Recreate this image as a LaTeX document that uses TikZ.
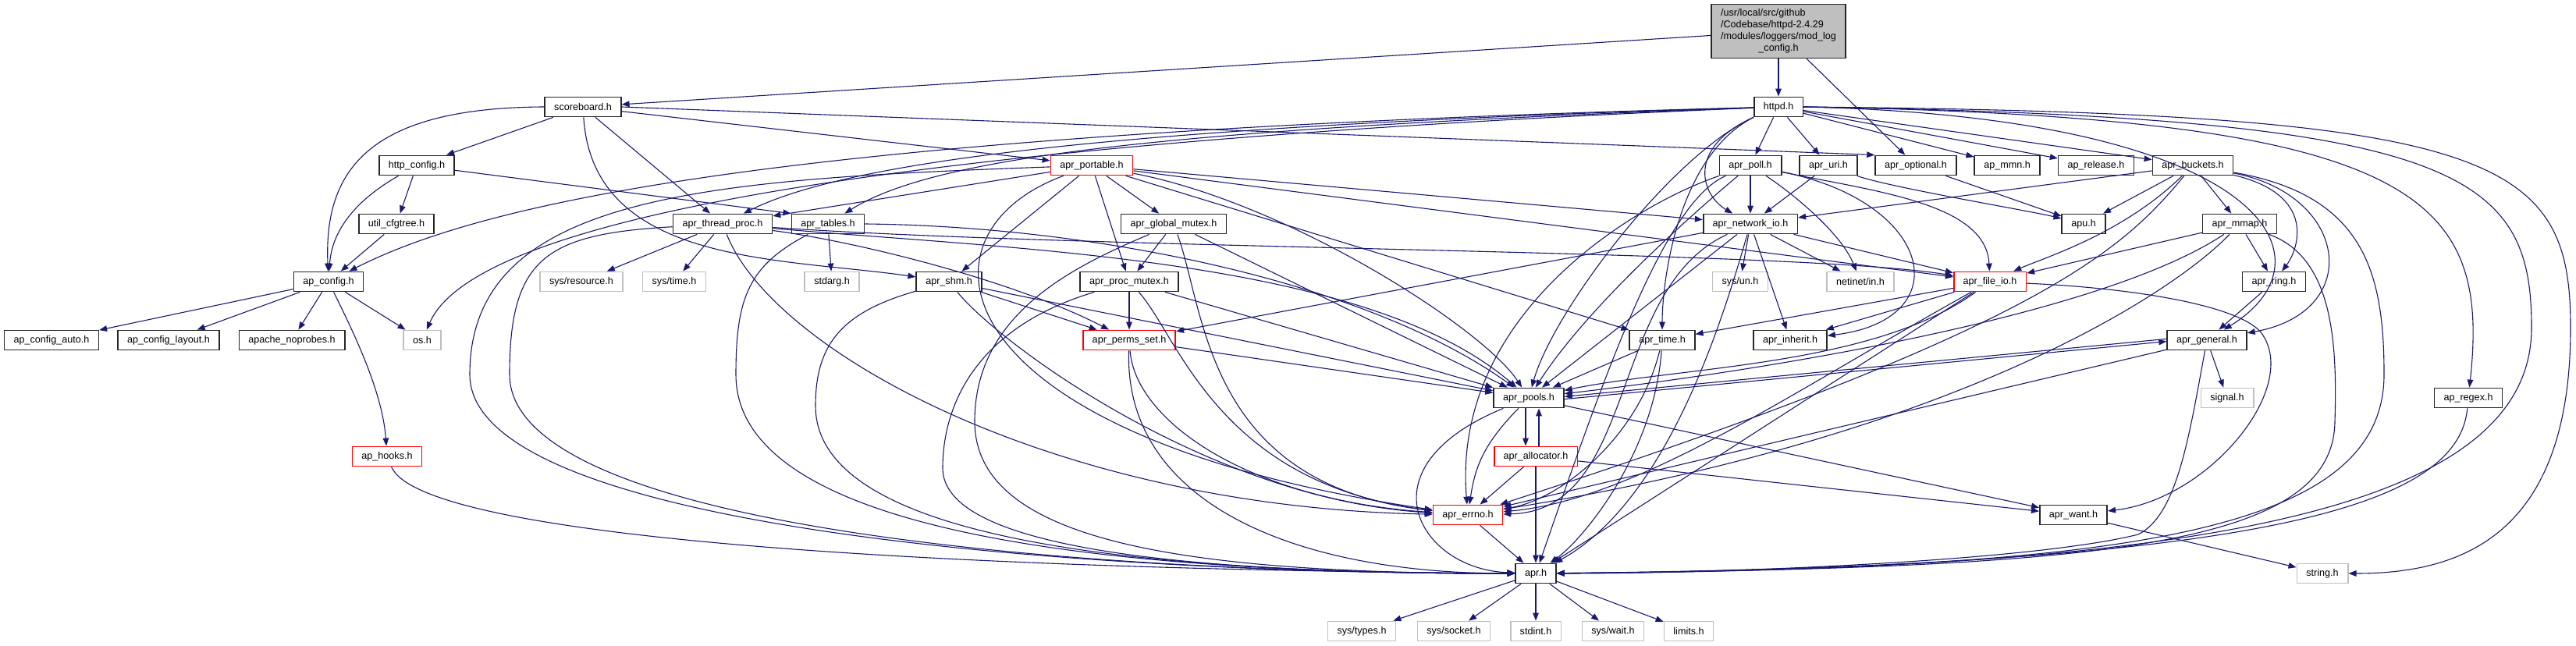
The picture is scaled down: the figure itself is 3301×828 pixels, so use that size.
\documentclass[tikz,border=0pt]{standalone}
\usepackage{fontspec}
\setmainfont{Liberation Sans}
\usetikzlibrary{arrows.meta}
\definecolor{edgeblue}{HTML}{191970}
\definecolor{sysgray}{HTML}{BFBFBF}
\definecolor{rootfill}{HTML}{BFBFBF}
\definecolor{truncred}{HTML}{FF0000}
\tikzset{
  hdr/.style={draw=black!85, line width=0.8pt, fill=white, minimum height=12.6pt,
    inner xsep=6pt, inner ysep=0pt, font=\fontsize{6.3}{7.4}\selectfont},
  syshdr/.style={hdr, draw=sysgray},
  trunchdr/.style={hdr, draw=truncred},
  roothdr/.style={hdr, fill=rootfill, minimum height=34.5pt},
  inc/.style={color=edgeblue, line width=0.55pt, -{Triangle[length=5pt,width=3.8pt]}}
}

\begin{document}
\begin{tikzpicture}[x=0.5pt, y=-0.5pt]
  \useasboundingbox (0,0) rectangle (3301,828);
  % header files
  \node[roothdr] (root) at (2279,40) {\begin{tabular}{@{}l@{}}/usr/local/src/github\\/Codebase/httpd-2.4.29\\/modules/loggers/mod\_log\\\multicolumn{1}{@{}c@{}}{\_config.h}\end{tabular}};
  \node[hdr] (sb) at (747,137) {scoreboard.h};
  \node[hdr] (httpd) at (2279,137) {httpd.h};
  \node[hdr] (httpcfg) at (534,212) {http\_config.h};
  \node[trunchdr] (portable) at (1399,212) {apr\_portable.h};
  \node[hdr] (poll) at (2243,212) {apr\_poll.h};
  \node[hdr] (uri) at (2343,212) {apr\_uri.h};
  \node[hdr] (optional) at (2455,212) {apr\_optional.h};
  \node[hdr] (mmn) at (2572,212) {ap\_mmn.h};
  \node[hdr] (release) at (2686,212) {ap\_release.h};
  \node[hdr] (buckets) at (2810,212) {apr\_buckets.h};
  \node[hdr] (cfgtree) at (508,287) {util\_cfgtree.h};
  \node[hdr] (threadproc) at (926,287) {apr\_thread\_proc.h};
  \node[hdr] (tables) at (1061,287) {apr\_tables.h};
  \node[hdr] (globalmutex) at (1504,287) {apr\_global\_mutex.h};
  \node[hdr] (netio) at (2243,287) {apr\_network\_io.h};
  \node[hdr] (apu) at (2670,287) {apu.h};
  \node[hdr] (mmap) at (2870,287) {apr\_mmap.h};
  \node[hdr] (apcfg) at (421,361) {ap\_config.h};
  \node[syshdr] (resource) at (745,361) {sys/resource.h};
  \node[syshdr] (systime) at (864,361) {sys/time.h};
  \node[syshdr] (stdarg) at (1066,361) {stdarg.h};
  \node[hdr] (shm) at (1216,361) {apr\_shm.h};
  \node[hdr] (procmutex) at (1447,361) {apr\_proc\_mutex.h};
  \node[syshdr] (sysun) at (2230,361) {sys/un.h};
  \node[syshdr] (netinet) at (2384,361) {netinet/in.h};
  \node[trunchdr] (fileio) at (2550,361) {apr\_file\_io.h};
  \node[hdr] (ring) at (2914,361) {apr\_ring.h};
  \node[hdr] (cfgauto) at (66,436) {ap\_config\_auto.h};
  \node[hdr] (cfglayout) at (216,436) {ap\_config\_layout.h};
  \node[hdr] (noprobes) at (374,436) {apache\_noprobes.h};
  \node[syshdr] (osh) at (541,436) {os.h};
  \node[trunchdr] (permsset) at (1447,436) {apr\_perms\_set.h};
  \node[hdr] (time) at (2130,436) {apr\_time.h};
  \node[hdr] (inherit) at (2294,436) {apr\_inherit.h};
  \node[hdr] (general) at (2828,436) {apr\_general.h};
  \node[hdr] (pools) at (1959,510) {apr\_pools.h};
  \node[syshdr] (signal) at (2854,510) {signal.h};
  \node[hdr] (regex) at (3163,510) {ap\_regex.h};
  \node[trunchdr] (hooks) at (496,585) {ap\_hooks.h};
  \node[trunchdr] (allocator) at (1968,585) {apr\_allocator.h};
  \node[trunchdr] (errno) at (1881,660) {apr\_errno.h};
  \node[hdr] (want) at (2657,660) {apr\_want.h};
  \node[hdr] (apr) at (1968,735) {apr.h};
  \node[syshdr] (string) at (2976,735) {string.h};
  \node[syshdr] (types) at (1745,809) {sys/types.h};
  \node[syshdr] (socket) at (1863,809) {sys/socket.h};
  \node[syshdr] (stdint) at (1968,809) {stdint.h};
  \node[syshdr] (wait) at (2067,809) {sys/wait.h};
  \node[syshdr] (limits) at (2164,809) {limits.h};

  % mod_log_config.h
  \draw[inc] (root) -- (httpd);
  \draw[inc] (root) -- (optional);
  \draw[inc] (root) -- (sb);
  % scoreboard.h
  \draw[inc] (sb.west) .. controls (470,138) and (415,220) .. (apcfg);
  \draw[inc] (sb) -- (httpcfg);
  \draw[inc] (sb) -- (threadproc);
  \draw[inc] (sb) .. controls (760,340) and (1000,330) .. (shm);
  \draw[inc] (sb) -- (portable);
  \draw[inc] (sb.east) -- (optional.north west);
  % http_config.h, util_cfgtree.h
  \draw[inc] (httpcfg) -- (cfgtree);
  \draw[inc] (httpcfg) .. controls (450,260) and (425,300) .. (apcfg);
  \draw[inc] (httpcfg) -- (tables.north west);
  \draw[inc] (cfgtree) -- (apcfg);
  % ap_config.h
  \draw[inc] (apcfg) -- (cfgauto);
  \draw[inc] (apcfg) -- (cfglayout);
  \draw[inc] (apcfg) -- (noprobes);
  \draw[inc] (apcfg) -- (osh);
  \draw[inc] (apcfg) .. controls (450,420) and (490,500) .. (hooks);
  \draw[inc] (hooks) .. controls (540,690) and (1200,730) .. (apr);
  % httpd.h
  \draw[inc] (httpd) .. controls (1000,170) and (620,260) .. (apcfg);
  \draw[inc] (httpd) .. controls (1000,190) and (600,300) .. (osh);
  \draw[inc] (httpd) .. controls (1500,160) and (1100,200) .. (threadproc);
  \draw[inc] (httpd) .. controls (1500,165) and (1200,200) .. (tables);
  \draw[inc] (httpd.south west) .. controls (2140,200) and (1990,400) .. (pools);
  \draw[inc] (httpd.south west) .. controls (2150,200) and (2130,360) .. (time);
  \draw[inc] (httpd.south west) .. controls (2160,190) and (2180,250) .. (netio);
  \draw[inc] (httpd) -- (poll);
  \draw[inc] (httpd) -- (uri);
  \draw[inc] (httpd) -- (mmn);
  \draw[inc] (httpd) -- (release);
  \draw[inc] (httpd) -- (buckets);
  \draw[inc] (httpd.east) .. controls (2900,150) and (3000,330) .. (general);
  \draw[inc] (httpd.east) .. controls (3100,150) and (3191,250) .. (regex);
  \draw[inc] (httpd.east) .. controls (3150,150) and (3244,220) .. (3244,420)
    .. controls (3244,660) and (2800,730) .. (apr);
  \draw[inc] (httpd.east) .. controls (3200,145) and (3294,200) .. (3294,420)
    .. controls (3294,690) and (3150,735) .. (string);
  % apr_portable.h
  \draw[inc] (portable) .. controls (900,230) and (602,250) .. (602,480)
    .. controls (602,680) and (1400,735) .. (apr);
  \draw[inc] (portable) -- (threadproc);
  \draw[inc] (portable) .. controls (1160,300) and (1200,560) .. (errno);
  \draw[inc] (portable) -- (shm);
  \draw[inc] (portable) -- (procmutex);
  \draw[inc] (portable) -- (globalmutex);
  \draw[inc] (portable) .. controls (1650,260) and (1900,420) .. (pools);
  \draw[inc] (portable) -- (netio);
  \draw[inc] (portable) -- (fileio);
  \draw[inc] (portable) -- (time);
  % apr_thread_proc.h
  \draw[inc] (threadproc) -- (resource);
  \draw[inc] (threadproc) -- (systime);
  \draw[inc] (threadproc) .. controls (990,450) and (1350,650) .. (errno);
  \draw[inc] (threadproc) .. controls (700,300) and (653,330) .. (653,480)
    .. controls (653,680) and (1400,735) .. (apr);
  \draw[inc] (threadproc) .. controls (1300,320) and (1750,330) .. (pools);
  \draw[inc] (threadproc) .. controls (1400,320) and (2300,320) .. (fileio);
  \draw[inc] (threadproc) .. controls (1100,310) and (1300,360) .. (permsset);
  % apr_tables.h
  \draw[inc] (tables) -- (stdarg);
  \draw[inc] (tables) .. controls (960,340) and (943,380) .. (943,480)
    .. controls (943,680) and (1400,735) .. (apr);
  \draw[inc] (tables.east) .. controls (1400,290) and (1750,360) .. (pools);
  % apr_global_mutex.h
  \draw[inc] (globalmutex) -- (procmutex);
  \draw[inc] (globalmutex) .. controls (1380,340) and (1249,400) .. (1249,540)
    .. controls (1249,690) and (1500,735) .. (apr);
  \draw[inc] (globalmutex) .. controls (1545,400) and (1545,620) .. (errno);
  \draw[inc] (globalmutex) -- (pools);
  % apr_shm.h
  \draw[inc] (shm) -- (permsset);
  \draw[inc] (shm) .. controls (1080,400) and (1045,440) .. (1045,520)
    .. controls (1045,680) and (1400,735) .. (apr);
  \draw[inc] (shm) .. controls (1280,440) and (1550,640) .. (errno);
  \draw[inc] (shm) -- (pools);
  % apr_proc_mutex.h
  \draw[inc] (procmutex) -- (permsset);
  \draw[inc] (procmutex) .. controls (1250,420) and (1208,520) .. (1208,600)
    .. controls (1208,700) and (1500,735) .. (apr);
  \draw[inc] (procmutex) .. controls (1510,430) and (1560,620) .. (errno);
  \draw[inc] (procmutex) -- (pools);
  % apr_perms_set.h
  \draw[inc] (permsset) -- (pools);
  \draw[inc] (permsset) .. controls (1455,540) and (1600,640) .. (errno);
  \draw[inc] (permsset) .. controls (1440,640) and (1650,735) .. (apr);
  % apr_poll.h
  \draw[inc] (poll) -- (netio);
  \draw[inc] (poll) .. controls (2300,250) and (2360,300) .. (netinet);
  \draw[inc] (poll) .. controls (2480,260) and (2510,410) .. (inherit);
  \draw[inc] (poll) .. controls (2400,245) and (2545,260) .. (fileio);
  \draw[inc] (poll) .. controls (2150,290) and (2030,400) .. (pools);
  \draw[inc] (poll) .. controls (2100,260) and (1860,400) .. (errno);
  \draw[inc] (poll) .. controls (2130,260) and (2050,500) .. (apr);
  % apr_uri.h, apr_optional.h
  \draw[inc] (uri) -- (netio);
  \draw[inc] (uri) .. controls (2420,240) and (2600,270) .. (apu);
  \draw[inc] (optional) -- (apu);
  % apr_buckets.h
  \draw[inc] (buckets) -- (apu);
  \draw[inc] (buckets) -- (netio);
  \draw[inc] (buckets) .. controls (2720,300) and (2620,330) .. (fileio);
  \draw[inc] (buckets) -- (mmap);
  \draw[inc] (buckets) .. controls (2970,250) and (2945,320) .. (ring);
  \draw[inc] (buckets) .. controls (3010,250) and (3030,400) .. (general);
  \draw[inc] (buckets) .. controls (2720,320) and (2620,420) .. (errno);
  \draw[inc] (buckets) .. controls (3030,250) and (3055,350) .. (3055,480)
    .. controls (3055,690) and (2700,728) .. (apr);
  % apr_network_io.h
  \draw[inc] (netio) -- (permsset);
  \draw[inc] (netio) -- (pools);
  \draw[inc] (netio) .. controls (2060,370) and (2100,655) .. (errno);
  \draw[inc] (netio) .. controls (2210,400) and (2140,640) .. (apr);
  \draw[inc] (netio) -- (inherit);
  \draw[inc] (netio) -- (fileio);
  \draw[inc] (netio) -- (netinet);
  \draw[inc] (netio) -- (sysun);
  % apr_mmap.h, apr_ring.h
  \draw[inc] (mmap) -- (fileio);
  \draw[inc] (mmap) .. controls (2700,400) and (2300,470) .. (pools);
  \draw[inc] (mmap) .. controls (2780,380) and (2500,560) .. (errno);
  \draw[inc] (mmap) -- (ring);
  \draw[inc] (mmap) .. controls (2990,330) and (2995,440) .. (2992,540)
    .. controls (2990,700) and (2700,728) .. (apr);
  \draw[inc] (ring) -- (general);
  % apr_file_io.h
  \draw[inc] (fileio) -- (time);
  \draw[inc] (fileio) -- (inherit);
  \draw[inc] (fileio) .. controls (2400,470) and (2150,470) .. (pools);
  \draw[inc] (fileio) .. controls (2300,500) and (2100,640) .. (errno);
  \draw[inc] (fileio) -- (apr);
  \draw[inc] (fileio) .. controls (2750,370) and (2880,395) .. (2900,430)
    .. controls (2945,500) and (2830,640) .. (want);
  % apr_time.h
  \draw[inc] (time) -- (pools);
  \draw[inc] (time) .. controls (2100,560) and (2000,640) .. (errno);
  \draw[inc] (time) .. controls (2120,580) and (2030,690) .. (apr);
  % apr_general.h
  \draw[inc] ([yshift=0.8pt]general.west) -- ([yshift=0.8pt]pools.east);
  \draw[inc] (general) -- (signal);
  \draw[inc] (general) -- (errno);
  \draw[inc] (general) .. controls (2805,560) and (2790,660) .. (2740,685)
    .. controls (2600,720) and (2200,735) .. (apr);
  % apr_pools.h, apr_allocator.h
  \draw[inc] ([yshift=-0.8pt]pools.east) -- ([yshift=-0.8pt]general.west);
  \draw[inc] ([xshift=-2pt]pools.south) -- ([xshift=-6.5pt]allocator.north);
  \draw[inc] (pools) .. controls (1900,570) and (1890,600) .. (errno);
  \draw[inc] (pools) .. controls (1740,600) and (1820,730) .. (apr);
  \draw[inc] (pools) -- (want);
  \draw[inc] ([xshift=2pt]allocator.north) -- ([xshift=6.5pt]pools.south);
  \draw[inc] (allocator) -- (errno);
  \draw[inc] (allocator) -- (apr);
  \draw[inc] (allocator) -- (want);
  % apr_errno.h, apr_want.h, ap_regex.h
  \draw[inc] (errno) -- (apr);
  \draw[inc] (want) -- (string);
  \draw[inc] (regex) .. controls (3150,650) and (2900,725) .. (apr);
  % apr.h
  \draw[inc] (apr) -- (types);
  \draw[inc] (apr) -- (socket);
  \draw[inc] (apr) -- (stdint);
  \draw[inc] (apr) -- (wait);
  \draw[inc] (apr) -- (limits);
\end{tikzpicture}
\end{document}
